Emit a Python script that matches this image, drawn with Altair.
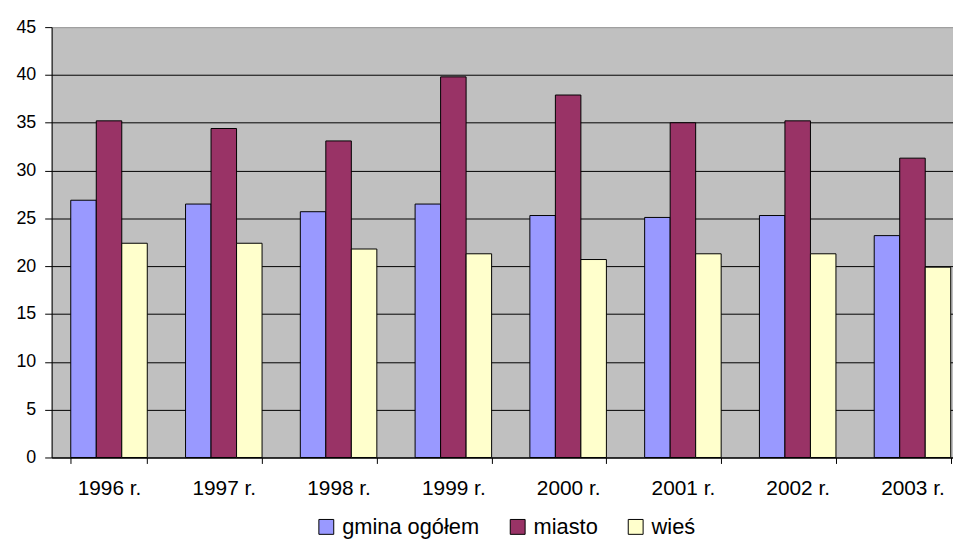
import altair as alt
import pandas as pd

years = ["1996 r.", "1997 r.", "1998 r.", "1999 r.", "2000 r.", "2001 r.", "2002 r.", "2003 r."]
series = ["gmina ogółem", "miasto", "wieś"]
gmina = [26.9, 26.5, 25.7, 26.5, 25.3, 25.1, 25.3, 23.2]
miasto = [35.2, 34.4, 33.1, 39.8, 37.9, 35.0, 35.2, 31.3]
wies = [22.4, 22.4, 21.8, 21.3, 20.7, 21.3, 21.3, 19.9]
colors = ["#9999FF", "#993366", "#FFFFCC"]
y_ticks = [0, 5, 10, 15, 20, 25, 30, 35, 40, 45]

rows = []
for s, vals in zip(series, [gmina, miasto, wies]):
    for yr, v in zip(years, vals):
        rows.append({"rok": yr, "seria": s, "wartosc": v})
df = pd.DataFrame(rows)

FONT = "Liberation Sans"

chart = alt.Chart(df).mark_bar(stroke="black", strokeWidth=1).encode(
    x=alt.X(
        "rok:N", sort=years, title=None,
        scale=alt.Scale(range=[0, 926], paddingInner=1 / 3, paddingOuter=1 / 6),
        axis=alt.Axis(labelAngle=0, tickBand="extent", tickSize=6, tickColor="black",
                      domainColor="black", labelFontSize=21, labelColor="black",
                      labelFont=FONT, labelPadding=14, grid=False),
    ),
    xOffset=alt.XOffset("seria:N", sort=series,
                        scale=alt.Scale(paddingInner=0, paddingOuter=0)),
    y=alt.Y(
        "wartosc:Q", title=None,
        scale=alt.Scale(domain=[0, 45], nice=False),
        axis=alt.Axis(values=y_ticks, tickSize=7, tickColor="black", domainColor="black",
                      labelFontSize=18, labelColor="black", labelFont=FONT, labelPadding=9,
                      grid=True,
                      gridColor={"condition": {"test": "datum.value == 45", "value": "#A0A0A0"},
                                 "value": "black"},
                      gridWidth=1, gridOpacity=1),
    ),
    color=alt.Color(
        "seria:N", sort=series,
        scale=alt.Scale(domain=series, range=colors),
        legend=alt.Legend(title=None, orient="none", legendX=266, legendY=493,
                          direction="horizontal", symbolType="square", symbolSize=225,
                          symbolStrokeColor="black", symbolStrokeWidth=1, symbolOpacity=1,
                          labelFontSize=22, labelFont=FONT, labelColor="black",
                          labelOffset=5, columnPadding=27, padding=0),
    ),
).properties(
    width=909, height=434,
    autosize=alt.AutoSizeParams(type="none"),
    padding={"left": 44, "top": 17, "right": 0, "bottom": 90},
).configure_view(fill="#C0C0C0", stroke="#A0A0A0", strokeWidth=1)

chart.save("out.html", embed_options={"renderer": "svg", "actions": False})
